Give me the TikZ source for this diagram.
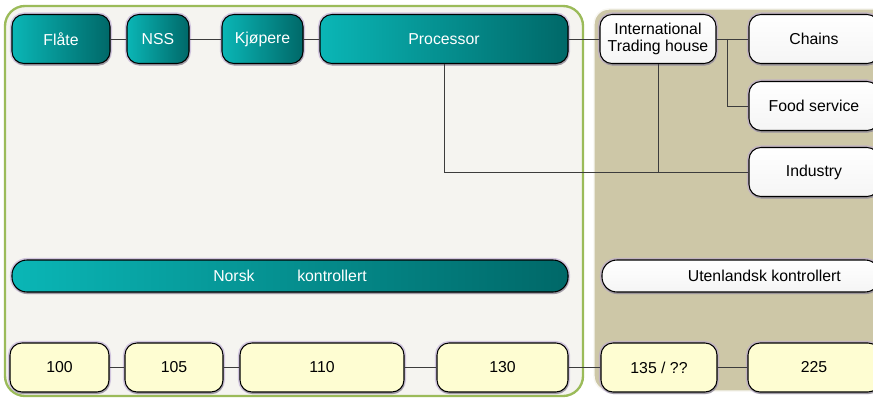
\documentclass[tikz,border=0pt]{standalone}
\usepackage{fontspec}
\setmainfont{Liberation Sans}
\usetikzlibrary{shapes,shadows}
\definecolor{tealL}{HTML}{0AB6B6}
\definecolor{tealR}{HTML}{006868}
\definecolor{paneL}{HTML}{F5F4F0}
\definecolor{paneG}{HTML}{9BBB59}
\definecolor{paneT}{HTML}{CDC7A7}
\definecolor{cream}{HTML}{FEFDD2}
\definecolor{glow}{HTML}{B9A6D2}
\definecolor{wire}{HTML}{3C3C3C}
\begin{document}
\begin{tikzpicture}[x=0.03cm,y=-0.03cm]
\tikzstyle{box}=[rectangle,rounded corners=0.36cm,draw=black,line width=0.9pt,minimum height=1.47cm,inner sep=0pt,font=\fontsize{13.5}{15}\selectfont,
  preaction={draw=glow,line width=3.5pt,opacity=0.6},drop shadow={shadow xshift=0.6pt,shadow yshift=-1.8pt,opacity=0.6}]
\tikzstyle{teal}=[box,left color=tealL,right color=tealR,text=white]
\tikzstyle{plain}=[box,top color=white,bottom color=white!92!gray]
\tikzstyle{num}=[box,fill=cream,preaction={}]
\tikzstyle{bar}=[minimum height=0.96cm,rounded corners=0.45cm]
\tikzstyle{wire}=[draw=wire,line width=0.8pt]
\useasboundingbox (0,0) rectangle (873,398);
\draw[fill=paneL,draw=paneG,line width=2pt,rounded corners=0.6cm] (5,6) rectangle (583,396);
\draw[fill=paneT,draw=white!85!paneT,line width=1.2pt,rounded corners=0.45cm] (594,9) rectangle (890,391);
\node[teal,minimum width=2.94cm] (flate) at (61,39) {Flåte};
\node[teal,minimum width=1.86cm] (nss) at (158,39) {NSS};
\node[teal,minimum width=2.43cm] (kjopere) at (262.5,39) {Kjøpere};
\node[teal,minimum width=7.44cm] (processor) at (444,39) {Processor};
\node[plain,minimum width=3.48cm,align=center] (trading) at (658,39) {International\\Trading house};
\node[plain,minimum width=3.9cm] (chains) at (814,39) {Chains};
\node[plain,minimum width=3.9cm] (food) at (814,106) {Food service};
\node[plain,minimum width=3.9cm] (industry) at (814,172) {Industry};
\node[teal,bar,minimum width=16.68cm] (norsk) at (290,276) {Norsk\hspace{2.7em}kontrollert};
\node[plain,bar,minimum width=8.34cm] (utenl) at (741,276) {\hspace{1.4cm}Utenlandsk kontrollert};
\node[num,minimum width=2.97cm] (n100) at (59.5,367.5) {100};
\node[num,minimum width=2.94cm] (n105) at (174,367.5) {105};
\node[num,minimum width=4.92cm] (n110) at (322,367.5) {110};
\node[num,minimum width=3.93cm] (n130) at (502.5,367.5) {130};
\node[num,minimum width=3.48cm] (n135) at (659,367.5) {135 / ??};
\node[num,minimum width=3.96cm] (n225) at (814,367.5) {225};
\coordinate (split) at (727,39);
\draw[wire] (flate) -- (nss) -- (kjopere) -- (processor) -- (trading) -- (chains);
\draw[wire] (split) |- (food.west);
\draw[wire] (trading.south) -- (trading.south |- industry.west);
\draw[wire] (processor.south) |- (industry.west);
\draw[wire] (n100) -- (n105) -- (n110) -- (n130) -- (n135) -- (n225);
\end{tikzpicture}
\end{document}
